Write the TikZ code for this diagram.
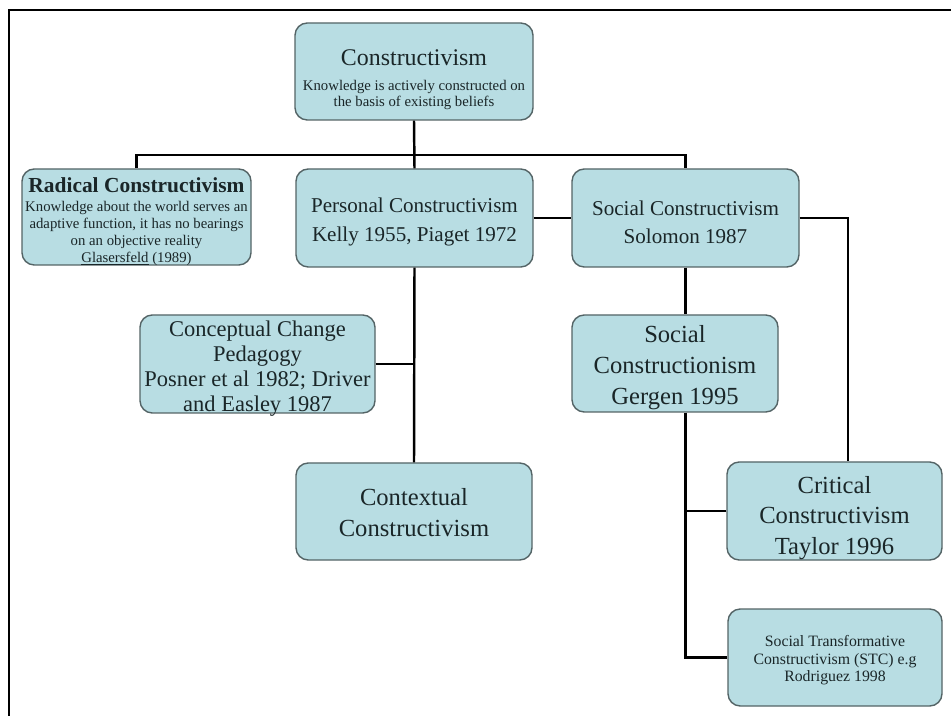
\documentclass[tikz,border=0pt]{standalone}
\usepackage{fontspec}
\setmainfont{Liberation Serif}
\usepackage{xcolor}
\usepackage{tikz}

\definecolor{boxfill}{RGB}{184,221,227}
\definecolor{boxline}{RGB}{84,100,102}
\definecolor{boxtext}{RGB}{26,38,40}

\tikzset{
	tile/.style 2 args={draw=boxline, fill=boxfill, line width=0.8pt, rounded corners=7pt,
		inner sep=0pt, minimum width=#1*0.02cm, minimum height=#2*0.02cm},
	words/.style={align=center, text=boxtext, inner sep=0pt},
	link/.style={line width=1.4pt, black},
	frame/.style={line width=1.1pt, black},
}

\begin{document}
\begin{tikzpicture}[x=0.02cm, y=-0.02cm]
					% Page size
					\useasboundingbox (0,0) rectangle (951,716);
					% Frame round the chart, open on the right and bottom
					\draw[frame] (951,10) -- (9,10) -- (9,716);
					% Create Tiles
					\node[tile={238}{97}] (top) at (414,71.5) {};
					\node[tile={229}{96}] (radical) at (136.5,217) {};
					\node[tile={237}{98}] (personal) at (414.5,218) {};
					\node[tile={227}{98}] (social) at (685.5,218) {};
					\node[tile={235}{98}] (conceptual) at (257.5,364) {};
					\node[tile={236}{97}] (contextual) at (414,511.5) {};
					\node[tile={206}{97}] (constructionism) at (675,363.5) {};
					\node[tile={215}{98}] (critical) at (834.5,511) {};
					\node[tile={214}{97}] (stc) at (835,657.5) {};
					% Add labels to the tiles
					\node[words, font=\fontsize{8.4}{9.2}\selectfont] (top-text) at ([yshift=-0.16cm]top.center)
						{{\fontsize{13.6}{16}\selectfont Constructivism}\\[5pt]
						 Knowledge is actively constructed on\\
						 the basis of existing beliefs};
					\node[words, font=\fontsize{8.4}{9.6}\selectfont] (radical-text) at ([yshift=-0.1cm]radical.center)
						{{\fontsize{12.2}{13}\selectfont\bfseries Radical Constructivism}\\[1pt]
						 Knowledge about the world serves an\\
						 adaptive function, it has no bearings\\
						 on an objective reality\\
						 \underline{Glasersfeld} (1989)};
					\node[words, font=\fontsize{12}{16}\selectfont] (personal-text) at ([yshift=-0.08cm]personal.center)
						{Personal Constructivism\\ Kelly 1955, Piaget 1972};
					\node[words, font=\fontsize{12}{16}\selectfont] (social-text) at ([yshift=-0.08cm]social.center)
						{Social Constructivism\\ Solomon 1987};
					\node[words, font=\fontsize{12.8}{14.2}\selectfont] (conceptual-text) at ([yshift=-0.1cm]conceptual.center)
						{Conceptual Change\\ Pedagogy\\ Posner et al 1982; Driver\\ and Easley 1987};
					\node[words, font=\fontsize{14}{17.5}\selectfont] (contextual-text) at ([yshift=-0.02cm]contextual.center)
						{Contextual\\ Constructivism};
					\node[words, font=\fontsize{14}{17.5}\selectfont] (constructionism-text) at ([yshift=-0.08cm]constructionism.center)
						{Social\\ Constructionism\\ Gergen 1995};
					\node[words, font=\fontsize{14}{17.5}\selectfont] (critical-text) at ([yshift=-0.14cm]critical.center)
						{Critical\\ Constructivism\\ Taylor 1996};
					\node[words, font=\fontsize{9}{10}\selectfont] (stc-text) at ([yshift=-0.06cm]stc.center)
						{Social Transformative\\ Constructivism (STC) e.g\\ Rodriguez 1998};
					% Connect the tiles
					\coordinate (bus) at (414,155);
					\coordinate (side) at (848,0);
					\draw[link] (top.south) -- (personal.north);
					\draw[link] (radical.north) |- (bus) -| (social.north);
					\draw[link] (personal.east) -- (social.west);
					\draw[link] (personal.south) -- (contextual.north);
					\draw[link] (conceptual.east) -- (conceptual.east -| personal.south);
					\draw[link] (social.south) -- (social.south |- constructionism.north);
					\draw[link] (social.east) -| (side |- critical.north);
					\draw[link] (social.south |- constructionism.south) |- (stc.west);
					\draw[link] (critical.west) -- (critical.west -| social.south);
				\end{tikzpicture}
\end{document}
